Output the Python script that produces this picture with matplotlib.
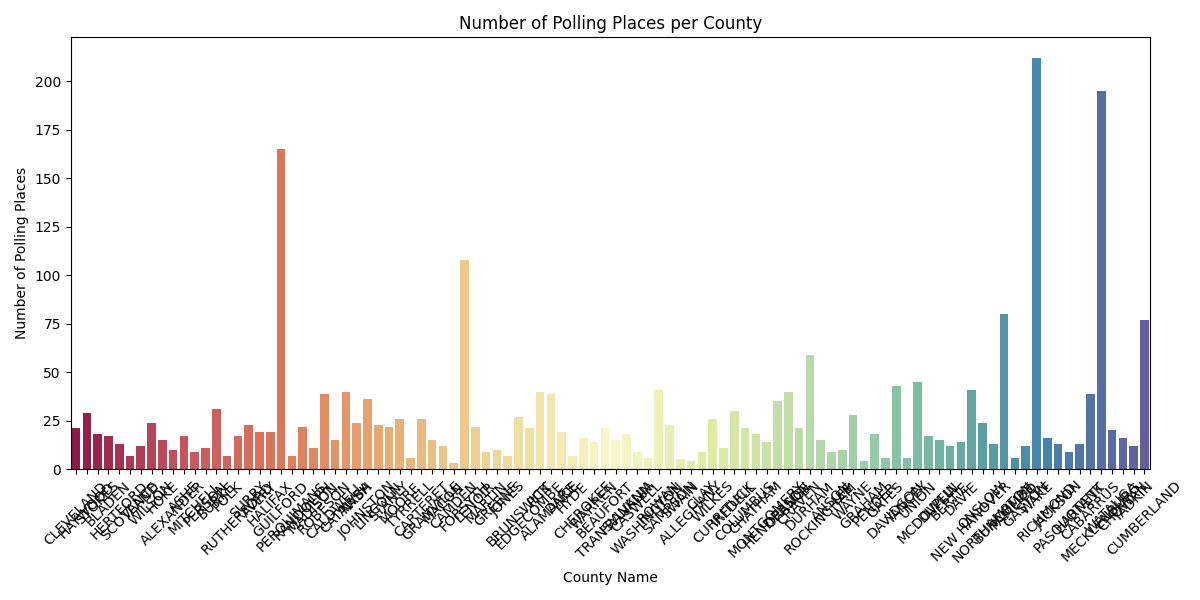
import matplotlib
matplotlib.use("Agg")
import matplotlib.pyplot as plt
import seaborn as sns
import pandas as pd

counties = [
    "CLEVELAND", "HAYWOOD", "STOKES", "BLADEN", "HERTFORD", "SCOTLAND", "VANCE", "WILSON", "HOKE", "ALEXANDER",
    "ASHE", "MITCHELL", "PERSON", "BURKE", "POLK", "RUTHERFORD", "SURRY", "AVERY", "HALIFAX", "GUILFORD",
    "PERQUIMANS", "RANDOLPH", "MADISON", "ROBESON", "CALDWELL", "CATAWBA", "NASH", "JOHNSTON", "LINCOLN", "STANLY",
    "MOORE", "TYRRELL", "CARTERET", "GRANVILLE", "MACON", "CAMDEN", "FORSYTH", "LENOIR", "MARTIN", "GREENE",
    "JONES", "BRUNSWICK", "EDGECOMBE", "PITT", "ALAMANCE", "DARE", "HYDE", "CHEROKEE", "WARREN", "BEAUFORT",
    "TRANSYLVANIA", "FRANKLIN", "CASWELL", "WASHINGTON", "ROWAN", "SAMPSON", "SWAIN", "ALLEGHANY", "CLAY", "WILKES",
    "CURRITUCK", "IREDELL", "COLUMBUS", "CHATHAM", "MONTGOMERY", "HENDERSON", "ORANGE", "CRAVEN", "DURHAM", "ROCKINGHAM",
    "ANSON", "LEE", "WAYNE", "GRAHAM", "PENDER", "GATES", "DAVIDSON", "YANCEY", "UNION", "MCDOWELL",
    "DUPLIN", "BERTIE", "DAVIE", "NEW HANOVER", "ONSLOW", "NORTHAMPTON", "BUNCOMBE", "PAMLICO", "GASTON", "WAKE",
    "RICHMOND", "JACKSON", "PASQUOTANK", "HARNETT", "CABARRUS", "MECKLENBURG", "WATAUGA", "CHOWAN", "YADKIN", "CUMBERLAND",
]

polling_places = [
    21, 29, 18, 17, 13, 7, 12, 24, 15, 10,
    17, 9, 11, 31, 7, 17, 23, 19, 19, 165,
    7, 22, 11, 39, 15, 40, 24, 36, 23, 22,
    26, 6, 26, 15, 12, 3, 108, 22, 9, 10,
    7, 27, 21, 40, 39, 19, 7, 16, 14, 21,
    15, 18, 9, 6, 41, 23, 5, 4, 9, 26,
    11, 30, 21, 18, 14, 35, 40, 21, 59, 15,
    9, 10, 28, 4, 18, 6, 43, 6, 45, 17,
    15, 12, 14, 41, 24, 13, 80, 6, 12, 212,
    16, 13, 9, 13, 39, 195, 20, 16, 12, 77,
]

df = pd.DataFrame({"County Name": counties, "Number of Polling Places": polling_places})

fig, ax = plt.subplots(figsize=(12, 6), dpi=100)
sns.barplot(data=df, x="County Name", y="Number of Polling Places",
            hue="County Name", palette="Spectral", legend=False, ax=ax)
ax.set_title("Number of Polling Places per County")
ax.set_xlabel("County Name")
ax.set_ylabel("Number of Polling Places")
plt.xticks(rotation=45)
plt.tight_layout()
fig.savefig("out.png", dpi=100)
